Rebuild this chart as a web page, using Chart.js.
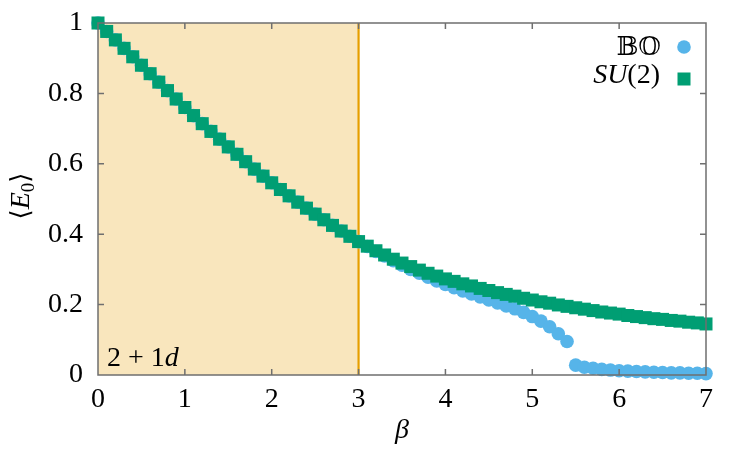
<!DOCTYPE html>
<html lang="en">
<head>
  <meta charset="UTF-8">
  <title>E0 vs beta</title>
  <script src="https://cdn.jsdelivr.net/npm/chart.js"></script>
  <style>
    body { margin: 0; background: #fff; }
    canvas { display: block; }
  </style>
</head>
<body>
  <canvas id="chart" width="747" height="449"></canvas>

  <script>
    // beta grid (x values)
    const beta = [
      0.0, 0.1, 0.2, 0.3, 0.4, 0.5, 0.6, 0.7, 0.8, 0.9,
      1.0, 1.1, 1.2, 1.3, 1.4, 1.5, 1.6, 1.7, 1.8, 1.9,
      2.0, 2.1, 2.2, 2.3, 2.4, 2.5, 2.6, 2.7, 2.8, 2.9,
      3.0, 3.1, 3.2, 3.3, 3.4, 3.5, 3.6, 3.7, 3.8, 3.9,
      4.0, 4.1, 4.2, 4.3, 4.4, 4.5, 4.6, 4.7, 4.8, 4.9,
      5.0, 5.1, 5.2, 5.3, 5.4, 5.5, 5.6, 5.7, 5.8, 5.9,
      6.0, 6.1, 6.2, 6.3, 6.4, 6.5, 6.6, 6.7, 6.8, 6.9,
      7.0
    ];

    // SU(2) series
    const su2 = [
      1.000, 0.976, 0.952, 0.928, 0.904, 0.880, 0.856, 0.832, 0.808, 0.784,
      0.760, 0.737, 0.714, 0.692, 0.670, 0.648, 0.627, 0.606, 0.585, 0.565,
      0.546, 0.527, 0.509, 0.491, 0.474, 0.457, 0.441, 0.425, 0.409, 0.394,
      0.379, 0.366, 0.353, 0.341, 0.329, 0.318, 0.308, 0.298, 0.289, 0.281,
      0.273, 0.266, 0.259, 0.253, 0.246, 0.240, 0.234, 0.229, 0.224, 0.218,
      0.213, 0.208, 0.204, 0.199, 0.195, 0.191, 0.187, 0.183, 0.179, 0.176,
      0.173, 0.169, 0.166, 0.163, 0.160, 0.158, 0.155, 0.153, 0.150, 0.148,
      0.145
    ];

    // BO series
    const bo = [
      1.000, 0.976, 0.952, 0.928, 0.904, 0.880, 0.856, 0.832, 0.808, 0.784,
      0.760, 0.737, 0.714, 0.692, 0.670, 0.648, 0.627, 0.606, 0.585, 0.565,
      0.546, 0.527, 0.509, 0.491, 0.474, 0.457, 0.441, 0.425, 0.409, 0.394,
      0.379, 0.365, 0.351, 0.338, 0.325, 0.312, 0.300, 0.289, 0.278, 0.267,
      0.257, 0.248, 0.239, 0.230, 0.222, 0.213, 0.205, 0.196, 0.188, 0.178,
      0.166, 0.153, 0.137, 0.117, 0.095, 0.028, 0.022, 0.019, 0.016, 0.014,
      0.012, 0.011, 0.010, 0.009, 0.008, 0.007, 0.006, 0.006, 0.005, 0.005,
      0.004
    ];

    const shadeFrom = 0;
    const shadeTo = 3;

    const SERIF = '"Liberation Serif", "DejaVu Serif", serif';
    const GREEN = '#009E73';
    const BLUE = '#56B4E9';
    const FRAME = '#6f6f6f';

    // draw a row of text pieces with different fonts
    function runs(ctx, parts, x, y, align) {
      let w = 0;
      parts.forEach(p => { ctx.font = p[1]; w += ctx.measureText(p[0]).width; });
      let cx = align === 'right' ? x - w : align === 'center' ? x - w / 2 : x;
      ctx.textAlign = 'left';
      ctx.textBaseline = 'alphabetic';
      parts.forEach(p => {
        ctx.font = p[1];
        ctx.fillText(p[0], cx, y + (p[2] || 0));
        cx += ctx.measureText(p[0]).width;
      });
    }

    const deco = {
      id: 'deco',
      beforeDatasetsDraw(chart) {
        const { ctx, chartArea: a, scales: { x } } = chart;
        const x0 = x.getPixelForValue(shadeFrom);
        const x1 = x.getPixelForValue(shadeTo);
        ctx.save();
        ctx.fillStyle = 'rgba(230,159,0,0.26)';
        ctx.fillRect(x0, a.top, x1 - x0, a.bottom - a.top);
        ctx.strokeStyle = '#E69F00';
        ctx.lineWidth = 2.2;
        ctx.beginPath();
        ctx.moveTo(x1, a.top);
        ctx.lineTo(x1, a.bottom);
        ctx.stroke();
        ctx.fillStyle = '#000';
        runs(ctx, [['2 + 1', '28px ' + SERIF], ['d', 'italic 28px ' + SERIF]], a.left + 9, a.bottom - 9, 'left');
        ctx.restore();
      },
      afterDraw(chart) {
        const { ctx, chartArea: a, scales: { x, y } } = chart;
        ctx.save();
        // frame
        ctx.globalAlpha = 1;
        ctx.setLineDash([]);
        ctx.strokeStyle = FRAME;
        ctx.lineWidth = 1.5;
        ctx.beginPath();
        ctx.rect(a.left, a.top, a.right - a.left, a.bottom - a.top);
        // inward ticks on all four sides
        const tl = 6;
        x.ticks.forEach(t => {
          const px = x.getPixelForValue(t.value);
          ctx.moveTo(px, a.bottom); ctx.lineTo(px, a.bottom - tl);
          ctx.moveTo(px, a.top); ctx.lineTo(px, a.top + tl);
        });
        y.ticks.forEach(t => {
          const py = y.getPixelForValue(t.value);
          ctx.moveTo(a.left, py); ctx.lineTo(a.left + tl, py);
          ctx.moveTo(a.right, py); ctx.lineTo(a.right - tl, py);
        });
        ctx.stroke();

        // legend
        ctx.fillStyle = '#000';
        runs(ctx, [['\u{1D539}\u{1D546}', '26px "DejaVu Serif", "DejaVu Sans", serif']], 661, 55, 'right');
        runs(ctx, [['SU', 'italic 28px ' + SERIF], ['(2)', '28px ' + SERIF]], 660, 83, 'right');
        ctx.fillStyle = BLUE;
        ctx.beginPath();
        ctx.arc(684, 47, 6.8, 0, Math.PI * 2);
        ctx.fill();
        ctx.fillStyle = GREEN;
        ctx.fillRect(684 - 6.5, 79 - 6.5, 13, 13);

        // axis titles
        ctx.fillStyle = '#000';
        runs(ctx, [['\u03B2', 'italic 28px ' + SERIF]], (a.left + a.right) / 2, 438, 'center');
        ctx.translate(29, 196);
        ctx.rotate(-Math.PI / 2);
        runs(ctx, [
          ['\u27E8', '26px "DejaVu Serif", serif'],
          ['E', 'italic 28px ' + SERIF],
          ['0', '19px ' + SERIF, 5],
          ['\u27E9', '26px "DejaVu Serif", serif']
        ], 0, 0, 'center');
        ctx.restore();
      }
    };

    const ctx = document.getElementById('chart').getContext('2d');

    new Chart(ctx, {
      type: 'scatter',
      data: {
        datasets: [
          {
            label: 'BO',
            data: beta.map((b, i) => ({ x: b, y: bo[i] })),
            pointStyle: 'circle',
            pointRadius: 6.8,
            pointBorderWidth: 0,
            backgroundColor: BLUE,
            borderColor: BLUE,
            clip: false,
            order: 1
          },
          {
            label: 'SU(2)',
            data: beta.map((b, i) => ({ x: b, y: su2[i] })),
            pointStyle: 'rect',
            pointRadius: 9.2,
            pointBorderWidth: 0,
            backgroundColor: GREEN,
            borderColor: GREEN,
            clip: false,
            order: 0
          }
        ]
      },
      options: {
        responsive: false,
        animation: false,
        devicePixelRatio: 1,
        layout: { padding: { top: 23, right: 41, left: 0, bottom: 0 } },
        plugins: {
          legend: { display: false },
          tooltip: { enabled: false }
        },
        scales: {
          x: {
            type: 'linear',
            min: 0,
            max: 7,
            grid: { display: false, drawTicks: false },
            border: { display: false },
            ticks: {
              stepSize: 1,
              padding: 8,
              color: '#000',
              font: { family: SERIF, size: 28 }
            },
            afterFit: s => { s.height = 74; s.paddingLeft = 0; s.paddingRight = 0; }
          },
          y: {
            min: 0,
            max: 1,
            grid: { display: false, drawTicks: false },
            border: { display: false },
            ticks: {
              stepSize: 0.2,
              padding: 15,
              color: '#000',
              font: { family: SERIF, size: 28 },
              callback: v => String(Math.round(v * 10) / 10)
            },
            afterFit: s => { s.width = 98; s.paddingTop = 0; s.paddingBottom = 0; }
          }
        }
      },
      plugins: [deco]
    });
  </script>
</body>
</html>
